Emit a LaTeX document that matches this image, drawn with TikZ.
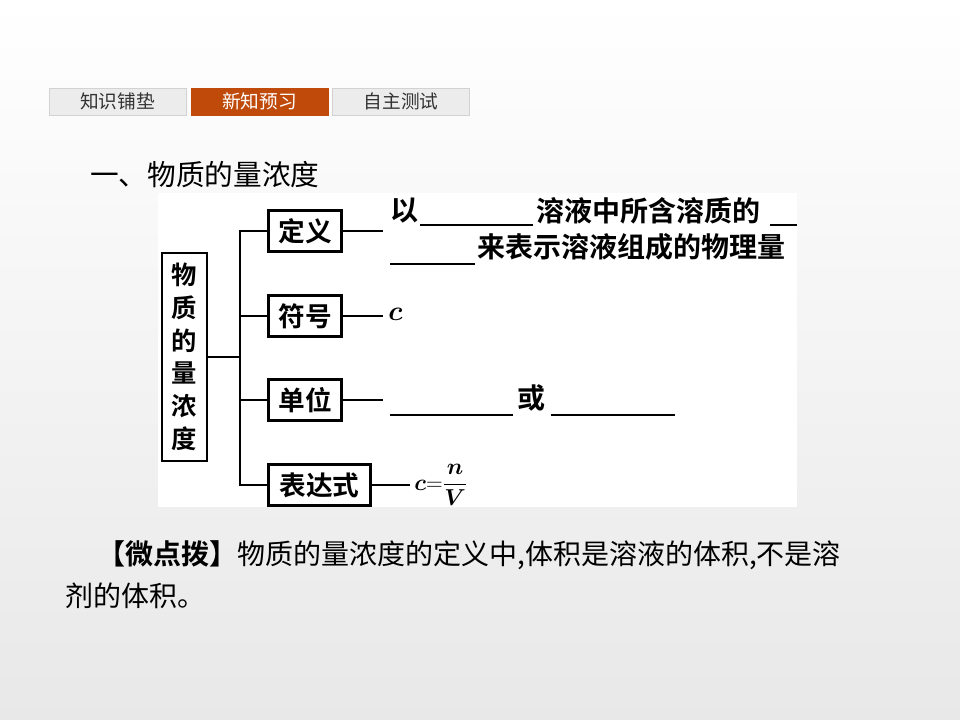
\documentclass[tikz,border=0pt]{standalone}
\usepackage{amsmath,amssymb,bm}
\usepackage{fontspec}
\newfontfamily\cjk{Noto Sans CJK SC}
\newfontfamily\cjkb{Noto Sans CJK SC Bold}
\setmainfont{Liberation Serif}
\begin{document}
\begin{tikzpicture}[x=0.75pt,y=-0.75pt,
  tab/.style={draw=gray!35,fill=gray!15,minimum width=137*0.75pt,minimum height=27*0.75pt,inner sep=0pt,font=\cjk\fontsize{14pt}{14pt}\selectfont,text=black!80},
  bx/.style={draw,line width=1.6pt,inner sep=0pt,minimum height=41*0.75pt,font=\cjkb\fontsize{20pt}{20pt}\selectfont},
  ln/.style={line width=1.4pt},
  txt/.style={inner sep=0pt,anchor=west,font=\cjkb\fontsize{21pt}{21pt}\selectfont},
  ul/.style={line width=1.3pt}]
\shade[top color=white,bottom color=gray!18] (0,0) rectangle (960,720);
\useasboundingbox (0,0) rectangle (960,720);
\node[tab] (t1) at (117.5,101.5) {知识铺垫};
\node[tab,fill={rgb,255:red,192;green,74;blue,10},draw={rgb,255:red,192;green,74;blue,10},text=white] (t2) at (259.5,101.5) {新知预习};
\node[tab] (t3) at (401,101.5) {自主测试};
\node[anchor=west,inner sep=0pt,font=\cjk\fontsize{21.5pt}{22pt}\selectfont] (title) at (90,175) {一、物质的量浓度};
\fill[white] (158,193) rectangle (797,507);
\node[bx,minimum width=45*0.75pt,minimum height=208*0.75pt,align=center,font=\cjkb\fontsize{19pt}{24.5pt}\selectfont] (root) at (184.5,357) {物\\质\\的\\量\\浓\\度};
\node[bx,minimum width=73*0.75pt] (b1) at (305,231) {定义};
\node[bx,minimum width=73*0.75pt] (b2) at (305,316) {符号};
\node[bx,minimum width=73*0.75pt] (b3) at (305,400) {单位};
\node[bx,minimum width=102*0.75pt] (b4) at (319.5,485) {表达式};
\coordinate (j) at (240,357);
\draw[ln] (root.east) -- (j);
\draw[ln] (b1.west) -| (j) |- (b4.west);
\draw[ln] (b2.west) -- (b2.west-|j);
\draw[ln] (b3.west) -- (b3.west-|j);
\coordinate (e1) at (383,231);
\coordinate (e2) at (383,316);
\coordinate (e3) at (383,400);
\coordinate (e4) at (410,485);
\draw[ln] (b1.east) -- (e1);
\draw[ln] (b2.east) -- (e2);
\draw[ln] (b3.east) -- (e3);
\draw[ln] (b4.east) -- (e4);
\node[txt] (d1) at (390,211) {以};
\draw[ul] (420,225) -- (533,225);
\node[txt] (d2) at (536,211) {溶液中所含溶质的};
\draw[ul] (770,225) -- (797,225);
\draw[ul] (390,264) -- (475,264);
\node[txt] (d3) at (477,247) {来表示溶液组成的物理量};
\node[anchor=west,inner sep=0pt,font=\fontsize{20pt}{20pt}\selectfont] (c) at (388,314) {$\bm{c}$};
\draw[ul] (390,415) -- (513,415);
\node[txt] (or) at (517,398) {或};
\draw[ul] (551,415) -- (675,415);
\node[anchor=west,inner sep=0pt,font=\fontsize{17pt}{17pt}\selectfont] (f) at (414,485) {$\bm{c}\mathbf{=}\dfrac{\bm{n}}{\bm{V}}$};
\node[anchor=west,inner sep=0pt,font=\cjk\fontsize{21pt}{22pt}\selectfont] (n1) at (97,555) {{\cjkb 【微点拨】}物质的量浓度的定义中,体积是溶液的体积,不是溶};
\node[anchor=west,inner sep=0pt,font=\cjk\fontsize{21pt}{22pt}\selectfont] (n2) at (65,596) {剂的体积。};
\end{tikzpicture}
\end{document}
